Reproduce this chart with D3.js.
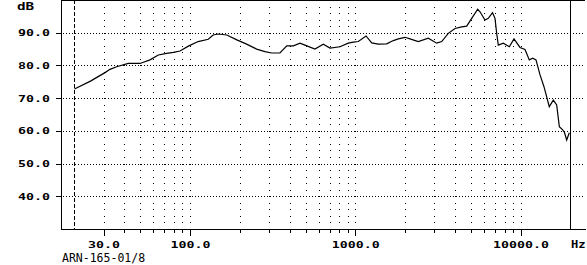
<!DOCTYPE html>
<html>
<head>
<meta charset="utf-8">
<script src="https://cdn.jsdelivr.net/npm/d3@7"></script>
<style>
  body { margin: 0; background: #fff; }
  svg { display: block; background: #fff; }
  .lbl { font-family: "DejaVu Sans Mono", monospace; font-weight: bold; font-size: 9.5px; fill: #000; }
  .unit { font-family: "DejaVu Sans Mono", monospace; font-weight: bold; font-size: 11px; fill: #000; }
  .note { font-family: "DejaVu Sans Mono", monospace; font-size: 11.5px; fill: #000; }
</style>
</head>
<body>
<div id="chart"></div>
<script>
// measured response (Hz, dB)
var freq = [20, 25, 30.6, 32.8, 36, 42.3, 49.8, 57.3, 64.3, 72.3, 79.3, 87, 97.7,
  112, 129, 138, 148, 167, 192, 220, 253, 284, 312, 350, 385, 422, 463, 496, 570,
  640, 703, 808, 907, 973, 1043, 1161, 1257, 1378, 1549, 1698, 1820, 1999, 2143,
  2405, 2764, 3108, 3332, 3652, 4010, 4402, 4719, 5060, 5500, 5681, 6088, 6377,
  6761, 7000, 7168, 7330, 7860, 8545, 9120, 9917, 10630, 11290, 11840, 12390,
  13110, 13850, 14380, 14910, 15770, 16530, 17150, 17980, 18430, 19000, 19710];
var level = [72.8, 75.2, 77.8, 78.8, 79.6, 80.6, 80.6, 81.7, 83.2, 83.7, 84.0, 84.4, 85.9,
  87.3, 88.0, 89.3, 89.6, 89.3, 87.8, 86.5, 85.0, 84.2, 83.8, 83.8, 86.0, 86.0, 86.8, 86.2, 85.0,
  86.5, 85.3, 85.7, 86.8, 87.1, 87.3, 89.0, 86.9, 86.5, 86.6, 87.6, 88.1, 88.6, 88.1,
  87.3, 88.3, 86.8, 87.3, 89.8, 91.3, 91.8, 92.0, 94.4, 97.2, 96.4, 93.9, 94.4,
  96.1, 94.4, 89.8, 86.2, 86.8, 85.7, 88.1, 85.5, 84.9, 81.7, 82.2, 81.7,
  77.1, 73.5, 70.4, 67.4, 69.4, 67.9, 61.3, 60.3, 59.5, 57.2, 59.4];

var levelTicks = [40, 50, 60, 70, 80, 90];
var freqLabels = [30, 100, 1000, 10000];
var freqMinor = [40, 50, 60, 70, 80, 90, 200, 300, 400, 500, 600, 700, 800, 900,
  2000, 3000, 4000, 5000, 6000, 7000, 8000, 9000];
var gridFreqs = [30, 40, 50, 60, 70, 80, 90, 100, 200, 300, 400, 500, 600, 700, 800, 900,
  1000, 2000, 3000, 4000, 5000, 6000, 7000, 8000, 9000, 10000];
var dotLevels = d3.range(32, 100, 2);
var lowMark = 20, highMark = 20000;

var svgWidth = 587, svgHeight = 265;
var plotLeft = 61, plotRight = 585, plotTop = 0, plotBottom = 229;
var sx = 1.4;

var svg = d3.select('#chart').append('svg')
  .attr('width', svgWidth)
  .attr('height', svgHeight);

var xScale = d3.scaleLog().domain([100, 10000]).range([190, 520.6]);
var xAxisScale = xScale.copy()
  .domain([xScale.invert(plotLeft), xScale.invert(plotRight)])
  .range([plotLeft, plotRight]);
var yScale = d3.scaleLinear().domain([30, 100]).range([plotBottom, plotTop]);

var fmt = d3.format('.1f');

// horizontal dotted grid
svg.append('g').selectAll('line')
  .data(levelTicks)
  .enter().append('line')
  .attr('x1', plotLeft + 2)
  .attr('x2', plotRight)
  .attr('y1', function (d) { return Math.round(yScale(d)) + 0.5; })
  .attr('y2', function (d) { return Math.round(yScale(d)) + 0.5; })
  .attr('stroke', '#000')
  .attr('stroke-dasharray', '1,2')
  .attr('shape-rendering', 'crispEdges');

// vertical dotted grid (single dots every 2 dB)
var dots = [];
gridFreqs.forEach(function (f) {
  dotLevels.forEach(function (v) { dots.push([f, v]); });
});
svg.append('g').selectAll('rect')
  .data(dots)
  .enter().append('rect')
  .attr('x', function (d) { return Math.round(xScale(d[0])); })
  .attr('y', function (d) { return Math.round(yScale(d[1])); })
  .attr('width', 1)
  .attr('height', 1)
  .attr('fill', '#000')
  .attr('shape-rendering', 'crispEdges');

// top border
svg.append('line')
  .attr('x1', plotLeft).attr('x2', plotRight)
  .attr('y1', 0.5).attr('y2', 0.5)
  .attr('stroke', '#000')
  .attr('shape-rendering', 'crispEdges');

// 20 Hz dashed marker, 20 kHz solid marker
svg.append('line')
  .attr('x1', Math.round(xScale(lowMark)) + 0.5)
  .attr('x2', Math.round(xScale(lowMark)) + 0.5)
  .attr('y1', plotTop).attr('y2', plotBottom)
  .attr('stroke', '#000')
  .attr('stroke-dasharray', '4,2')
  .attr('shape-rendering', 'crispEdges');
svg.append('line')
  .attr('x1', Math.round(xScale(highMark)) + 0.5)
  .attr('x2', Math.round(xScale(highMark)) + 0.5)
  .attr('y1', plotTop).attr('y2', plotBottom)
  .attr('stroke', '#000')
  .attr('shape-rendering', 'crispEdges');

// axis-y
var gy = svg.append('g')
  .attr('class', 'axis axis--y')
  .attr('transform', 'translate(' + plotLeft + ',0)')
  .call(d3.axisLeft(yScale).tickValues(levelTicks).tickSize(5).tickSizeOuter(0).tickFormat(fmt));
gy.selectAll('text')
  .attr('class', 'lbl')
  .attr('x', 0)
  .attr('transform', 'translate(-11,0) scale(' + sx + ',1)');

// axis-x
svg.append('g')
  .attr('transform', 'translate(0,' + plotBottom + ')')
  .call(d3.axisBottom(xAxisScale).tickValues(freqMinor).tickSize(4).tickSizeOuter(0).tickFormat(''))
  .select('.domain').remove();
var gx = svg.append('g')
  .attr('class', 'axis axis--x')
  .attr('transform', 'translate(0,' + plotBottom + ')')
  .call(d3.axisBottom(xAxisScale).tickValues(freqLabels).tickSize(7).tickPadding(5).tickSizeOuter(0).tickFormat(fmt));
gx.selectAll('text')
  .attr('class', 'lbl')
  .attr('transform', 'scale(' + sx + ',1)');

svg.selectAll('.axis').attr('font-family', null).attr('font-size', null);
svg.selectAll('.tick line, .domain').attr('shape-rendering', 'crispEdges');

// units and caption
svg.append('text').attr('class', 'unit')
  .attr('transform', 'translate(17,10) scale(1.3,1)')
  .text('dB');
svg.append('text').attr('class', 'unit')
  .attr('transform', 'translate(571,248) scale(1.1,1)')
  .text('Hz');
svg.append('text').attr('class', 'note')
  .attr('x', 62).attr('y', 262)
  .text('ARN-165-01/8');

// response curve
var points = freq.map(function (f, i) { return [f, level[i]]; });
var line = d3.line()
  .x(function (d) { return xScale(d[0]); })
  .y(function (d) { return yScale(d[1]); });
svg.append('path')
  .attr('d', line(points))
  .attr('fill', 'none')
  .attr('stroke', '#000')
  .attr('stroke-width', 1.2);
</script>
</body>
</html>
